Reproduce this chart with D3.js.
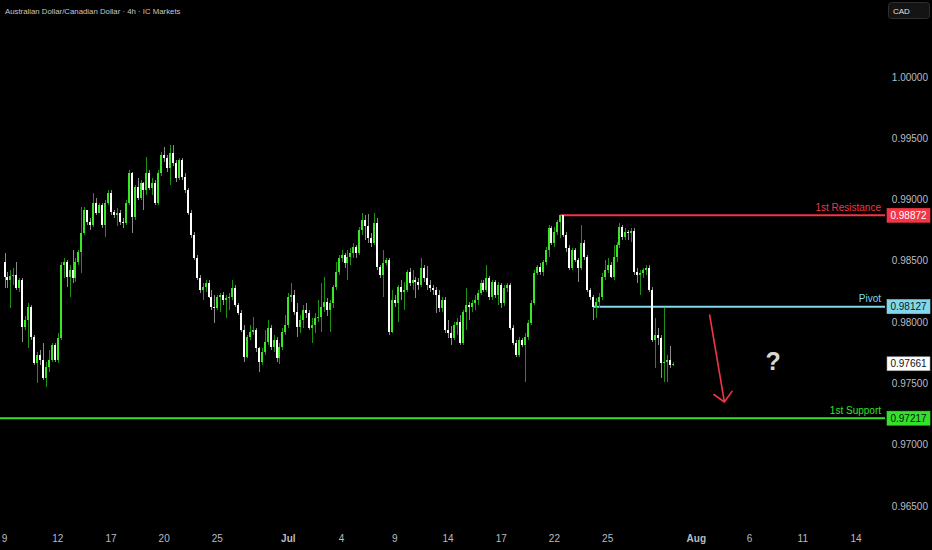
<!DOCTYPE html>
<html>
<head>
<meta charset="utf-8">
<script src="https://cdn.jsdelivr.net/npm/d3@7"></script>
<style>
  body { margin: 0; background: #000; }
  svg { display: block; font-family: "Liberation Sans", Arial, sans-serif; }
</style>
</head>
<body>
<script>
// AUD/CAD 4h candles (open = previous close)
const firstOpen = 0.98491;
const closes = [
  0.98368,0.98344,0.98377,0.98385,0.98278,0.98344,0.97960,0.98018,0.98124,0.97879,
  0.97667,0.97731,0.97692,0.97545,0.97634,0.97692,0.97814,0.97692,0.97871,0.98466,
  0.98491,0.98368,0.98426,0.98360,0.98491,0.98572,0.98727,0.98915,0.98817,0.98793,
  0.98972,0.98891,0.98956,0.98793,0.98972,0.99054,0.98899,0.98874,0.98891,0.98817,
  0.98809,0.98972,0.99217,0.98858,0.99103,0.99013,0.99135,0.99078,0.99217,0.99094,
  0.99135,0.98972,0.99217,0.99364,0.99339,0.99258,0.99380,0.99298,0.99176,0.99323,
  0.99184,0.99078,0.98891,0.98711,0.98523,0.98360,0.98262,0.98287,0.98319,0.98205,
  0.98124,0.98116,0.98205,0.98221,0.98181,0.98197,0.98205,0.98278,0.98140,0.98075,
  0.97936,0.97716,0.97879,0.97920,0.97936,0.97789,0.97675,0.97755,0.97838,0.97952,
  0.97797,0.97854,0.97708,0.97797,0.97920,0.97977,0.98205,0.98221,0.98083,0.97960,
  0.98018,0.98099,0.98075,0.97952,0.97977,0.98034,0.98042,0.98124,0.98165,0.98099,
  0.98156,0.98287,0.98409,0.98523,0.98548,0.98483,0.98532,0.98564,0.98613,0.98564,
  0.98752,0.98834,0.98785,0.98687,0.98646,0.98809,0.98450,0.98385,0.98483,0.98507,
  0.97920,0.98181,0.98156,0.98287,0.98246,0.98262,0.98409,0.98319,0.98344,0.98328,
  0.98303,0.98442,0.98360,0.98303,0.98278,0.98262,0.98221,0.98116,0.98181,0.97936,
  0.97911,0.97871,0.97977,0.98001,0.97830,0.98083,0.98140,0.98124,0.98156,0.98181,
  0.98238,0.98319,0.98262,0.98360,0.98205,0.98328,0.98221,0.98303,0.98156,0.98278,
  0.98303,0.97952,0.97830,0.97731,0.97854,0.97814,0.97879,0.97993,0.98156,0.98401,
  0.98450,0.98409,0.98491,0.98589,0.98768,0.98646,0.98736,0.98817,0.98872,0.98711,
  0.98605,0.98442,0.98589,0.98507,0.98442,0.98646,0.98532,0.98262,0.98205,0.98127,
  0.98165,0.98205,0.98368,0.98426,0.98466,0.98368,0.98532,0.98630,0.98776,0.98695,
  0.98736,0.98727,0.98744,0.98409,0.98385,0.98401,0.98426,0.98442,0.98262,0.97854,
  0.97895,0.97871,0.97667,0.97675,0.97692,0.97651,0.97661
];
const highs = [
  0.98564,0.98409,0.98426,0.98442,0.98491,0.98360,0.98360,0.98050,0.98156,0.98140,
  0.97895,0.97755,0.97773,0.97830,0.97675,0.97773,0.97830,0.97830,0.97911,0.98491,
  0.98523,0.98507,0.98466,0.98589,0.98523,0.98589,0.98940,0.98940,0.98899,0.98850,
  0.99054,0.99013,0.98972,0.98972,0.98997,0.99078,0.99078,0.98915,0.98931,0.98915,
  0.98850,0.98997,0.99241,0.99225,0.99119,0.99176,0.99160,0.99143,0.99347,0.99241,
  0.99176,0.99160,0.99241,0.99388,0.99429,0.99364,0.99445,0.99445,0.99323,0.99339,
  0.99339,0.99217,0.99094,0.98915,0.98736,0.98548,0.98385,0.98319,0.98344,0.98344,
  0.98262,0.98221,0.98221,0.98238,0.98246,0.98221,0.98238,0.98344,0.98303,0.98156,
  0.98099,0.97977,0.97895,0.97977,0.98042,0.97952,0.97797,0.97789,0.97936,0.98018,
  0.97977,0.97895,0.97879,0.97830,0.97952,0.98058,0.98238,0.98319,0.98262,0.98156,
  0.98058,0.98140,0.98156,0.98099,0.98034,0.98075,0.98181,0.98319,0.98368,0.98197,
  0.98181,0.98303,0.98491,0.98548,0.98589,0.98564,0.98589,0.98605,0.98646,0.98630,
  0.98776,0.98891,0.98874,0.98883,0.98727,0.98891,0.98850,0.98466,0.98589,0.98523,
  0.98523,0.98262,0.98221,0.98303,0.98344,0.98328,0.98426,0.98442,0.98426,0.98368,
  0.98360,0.98523,0.98466,0.98458,0.98344,0.98303,0.98287,0.98262,0.98205,0.98205,
  0.98018,0.97969,0.98001,0.98034,0.98058,0.98099,0.98278,0.98165,0.98181,0.98221,
  0.98262,0.98344,0.98344,0.98466,0.98377,0.98344,0.98344,0.98328,0.98319,0.98303,
  0.98319,0.98319,0.97977,0.97854,0.97879,0.97871,0.97911,0.98018,0.98181,0.98426,
  0.98466,0.98483,0.98507,0.98613,0.98793,0.98785,0.98776,0.98834,0.98872,0.98872,
  0.98736,0.98630,0.98605,0.98605,0.98523,0.98793,0.98670,0.98548,0.98278,0.98221,
  0.98197,0.98238,0.98401,0.98507,0.98523,0.98491,0.98630,0.98654,0.98809,0.98793,
  0.98768,0.98752,0.98768,0.98768,0.98442,0.98426,0.98442,0.98466,0.98466,0.98287,
  0.98034,0.97952,0.97895,0.98116,0.97731,0.97806,0.97675
];
const lows = [
  0.98278,0.98278,0.98116,0.98303,0.98262,0.98246,0.97838,0.97936,0.97789,0.97854,
  0.97651,0.97504,0.97651,0.97528,0.97471,0.97594,0.97675,0.97675,0.97667,0.97854,
  0.98360,0.98287,0.98205,0.98319,0.98328,0.98466,0.98401,0.98711,0.98793,0.98752,
  0.98776,0.98874,0.98891,0.98768,0.98695,0.98956,0.98874,0.98850,0.98785,0.98793,
  0.98768,0.98793,0.98956,0.98727,0.98834,0.98997,0.98997,0.98915,0.99037,0.99078,
  0.99037,0.98956,0.98956,0.99192,0.99306,0.99225,0.99119,0.99274,0.99143,0.99160,
  0.99160,0.99054,0.98874,0.98687,0.98507,0.98344,0.98238,0.98181,0.98246,0.98197,
  0.98099,0.97993,0.98099,0.98083,0.98140,0.98034,0.98099,0.98181,0.98124,0.98058,
  0.97920,0.97675,0.97708,0.97854,0.97895,0.97755,0.97594,0.97651,0.97731,0.97814,
  0.97773,0.97755,0.97675,0.97659,0.97773,0.97895,0.97952,0.98165,0.98058,0.97879,
  0.97911,0.97952,0.98034,0.97936,0.97830,0.97911,0.98001,0.97920,0.98083,0.98050,
  0.97920,0.98116,0.98262,0.98385,0.98491,0.98442,0.98344,0.98466,0.98523,0.98523,
  0.98548,0.98711,0.98670,0.98646,0.98613,0.98630,0.98426,0.98360,0.98205,0.98466,
  0.97895,0.97911,0.98124,0.98001,0.98181,0.98099,0.98246,0.98295,0.98262,0.98197,
  0.98262,0.98287,0.98328,0.98262,0.98246,0.98221,0.98075,0.98083,0.98083,0.97911,
  0.97871,0.97814,0.97854,0.97895,0.97814,0.97814,0.97936,0.98018,0.98083,0.98099,
  0.98140,0.98221,0.98246,0.98246,0.98181,0.98181,0.98197,0.98140,0.98116,0.98132,
  0.98246,0.97936,0.97814,0.97716,0.97716,0.97797,0.97512,0.97854,0.97977,0.98140,
  0.98385,0.98385,0.98377,0.98466,0.98532,0.98630,0.98613,0.98711,0.98687,0.98695,
  0.98572,0.98426,0.98426,0.98491,0.98328,0.98426,0.98507,0.98246,0.98181,0.98018,
  0.98034,0.98116,0.98181,0.98344,0.98401,0.98360,0.98344,0.98491,0.98605,0.98670,
  0.98670,0.98670,0.98654,0.98385,0.98319,0.98221,0.98360,0.98385,0.98246,0.97838,
  0.97626,0.97814,0.97545,0.97512,0.97512,0.97626,0.97642
];

// time axis: label text and the bar index it sits on
const dayLabels = ["9","12","17","20","25","Jul","4","9","14","17","22","25","Aug","6","11","14"];
const dayBars   = [0, 18, 36, 54, 72, 96, 114, 132, 150, 168, 186, 204, 234, 252, 270, 288];
const boldLabels = ["Jul", "Aug"];

const priceTicks = [1.0, 0.995, 0.99, 0.985, 0.98, 0.975, 0.97, 0.965];

// drawn levels
const resistance = 0.98872, resistanceBar = 188;
const pivot = 0.98127, pivotBar = 199;
const support = 0.97217;
const lastPrice = 0.97661;

// projection arrow (bar, price) and question mark
const arrowFrom = [238.5, 0.98058];
const arrowTo = [243.5, 0.97349];
const questionAt = [260, 0.97684];

const width = 932;
const height = 550;
const plotRight = 885;

const x = d3.scaleLinear().domain([0, 288]).range([4.5, 856]);
const y = d3.scaleLinear().domain([0.965, 1.0]).range([506.1, 77]);

const candles = closes.map((c, i) => {
    const o = i === 0 ? firstOpen : closes[i - 1];
    return {
        i: i,
        o: o,
        c: c,
        h: Math.max(highs[i], o, c),
        l: Math.min(lows[i], o, c)
    };
});

const svg = d3.create("svg")
    .attr("width", width)
    .attr("height", height)
    .attr("viewBox", [0, 0, width, height]);

svg.append("rect")
    .attr("width", width)
    .attr("height", height)
    .attr("fill", "#000");

// title
svg.append("text")
    .attr("x", 5)
    .attr("y", 14)
    .attr("fill", "#c8c8c8")
    .style("font-size", "7.8px")
    .text("Australian Dollar/Canadian Dollar · 4h · IC Markets");

// currency button
svg.append("rect")
    .attr("x", 888.5)
    .attr("y", 2.5)
    .attr("width", 41)
    .attr("height", 16)
    .attr("rx", 3)
    .attr("fill", "#141414")
    .attr("stroke", "#2e2e2e");
svg.append("text")
    .attr("x", 893)
    .attr("y", 14)
    .attr("fill", "#e0e0e0")
    .style("font-size", "8px")
    .text("CAD");

// price scale
svg.append("g")
    .selectAll("text")
    .data(priceTicks)
    .join("text")
    .attr("x", 928)
    .attr("y", d => y(d))
    .attr("dy", "0.35em")
    .attr("text-anchor", "end")
    .attr("fill", "#b8bcc4")
    .style("font-size", "10px")
    .text(d => d3.format(".5f")(d));

// time scale
svg.append("g")
    .selectAll("text")
    .data(dayLabels)
    .join("text")
    .attr("x", (d, k) => x(dayBars[k]))
    .attr("y", 538)
    .attr("dy", "0.35em")
    .attr("text-anchor", "middle")
    .attr("fill", "#b8bcc4")
    .style("font-size", "10px")
    .style("font-weight", d => boldLabels.includes(d) ? "bold" : "normal")
    .text(d => d);

// horizontal levels
const levels = [
    { name: "1st Resistance", v: resistance, from: x(resistanceBar), color: "#f23645", text: "#ffffff" },
    { name: "Pivot", v: pivot, from: x(pivotBar), color: "#80d8ea", text: "#0b1a1e" },
    { name: "1st Support", v: support, from: 0, color: "#33e02a", text: "#04160a" }
];

svg.append("g")
    .selectAll("line")
    .data(levels)
    .join("line")
    .attr("x1", d => d.from)
    .attr("x2", plotRight)
    .attr("y1", d => y(d.v))
    .attr("y2", d => y(d.v))
    .attr("stroke", d => d.color)
    .attr("stroke-width", 2);

// candles
const g = svg.append("g").attr("shape-rendering", "crispEdges");
const up = d => d.c >= d.o;

g.selectAll(".wick")
    .data(candles)
    .join("rect")
    .attr("class", "wick")
    .attr("x", d => Math.round(x(d.i)))
    .attr("width", 1)
    .attr("y", d => y(d.h))
    .attr("height", d => Math.max(1, y(d.l) - y(d.h)))
    .attr("fill", d => up(d) ? "#1f8f16" : "#8a8a8a");

g.selectAll(".body")
    .data(candles)
    .join("rect")
    .attr("class", "body")
    .attr("x", d => Math.round(x(d.i)) - 1)
    .attr("width", 2)
    .attr("y", d => y(Math.max(d.o, d.c)))
    .attr("height", d => Math.max(1, Math.abs(y(d.o) - y(d.c))))
    .attr("fill", d => up(d) ? "#38e825" : "#ffffff");

// level captions and price boxes
svg.append("g")
    .selectAll("text")
    .data(levels)
    .join("text")
    .attr("x", 881)
    .attr("y", d => y(d.v) - 4.5)
    .attr("text-anchor", "end")
    .attr("fill", d => d.color)
    .style("font-size", "10px")
    .text(d => d.name);

const boxes = levels.map(d => ({ v: d.v, fill: d.color, stroke: d.color, text: d.text }))
    .concat([{ v: lastPrice, fill: "#ffffff", stroke: "#9a9a9a", text: "#111111" }]);

const box = svg.append("g")
    .selectAll("g")
    .data(boxes)
    .join("g")
    .attr("transform", d => `translate(0,${y(d.v)})`);
box.append("rect")
    .attr("x", 887)
    .attr("y", -7)
    .attr("width", 43)
    .attr("height", 14)
    .attr("fill", d => d.fill)
    .attr("stroke", d => d.stroke)
    .attr("stroke-width", 0.6);
box.append("text")
    .attr("x", 908.5)
    .attr("dy", "0.36em")
    .attr("text-anchor", "middle")
    .attr("fill", d => d.text)
    .style("font-size", "10px")
    .text(d => d3.format(".5f")(d.v));

// projection arrow
const ax1 = x(arrowFrom[0]), ay1 = y(arrowFrom[1]);
const ax2 = x(arrowTo[0]), ay2 = y(arrowTo[1]);
const ang = Math.atan2(ay1 - ay2, ax1 - ax2);
const head = 13;
const wing = a => [ax2 + head * Math.cos(a), ay2 + head * Math.sin(a)];
const w1 = wing(ang - Math.PI / 4);
const w2 = wing(ang + Math.PI / 4);

svg.append("path")
    .attr("d", `M${ax1},${ay1}L${ax2},${ay2}M${w1[0]},${w1[1]}L${ax2},${ay2}L${w2[0]},${w2[1]}`)
    .attr("fill", "none")
    .attr("stroke", "#f23645")
    .attr("stroke-width", 1.6)
    .attr("stroke-linecap", "round")
    .attr("stroke-linejoin", "round");

svg.append("text")
    .attr("x", x(questionAt[0]))
    .attr("y", y(questionAt[1]))
    .attr("dy", "0.36em")
    .attr("text-anchor", "middle")
    .attr("fill", "#d6d6d6")
    .style("font-size", "25px")
    .style("font-weight", "bold")
    .text("?");

d3.select("body").append(() => svg.node());
</script>
</body>
</html>
